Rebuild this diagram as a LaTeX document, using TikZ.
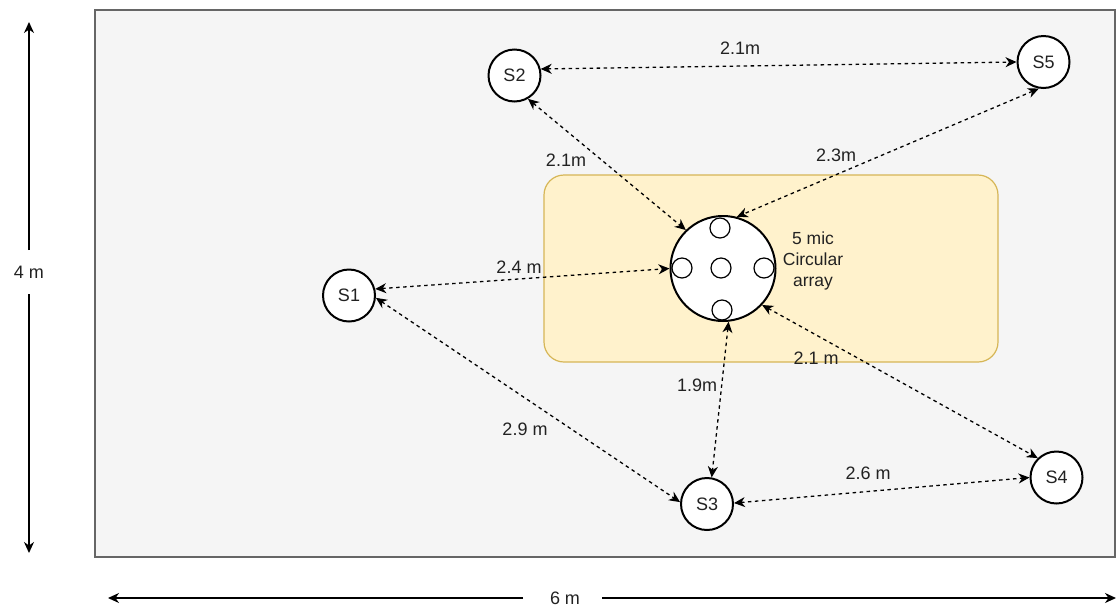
\documentclass[tikz,border=0pt]{standalone}
\usepackage{fontspec}
\setmainfont{Liberation Sans}
\usetikzlibrary{arrows.meta}
\definecolor{roomfill}{HTML}{F5F5F5}
\definecolor{roomline}{HTML}{666666}
\definecolor{zonefill}{HTML}{FFF2CC}
\definecolor{zoneline}{HTML}{D6B656}
\definecolor{txt}{HTML}{222222}
\tikzset{
  spk/.style={circle,draw=black,fill=white,line width=2pt,minimum size=52pt,inner sep=0pt,text=txt,font=\fontsize{18}{21}\selectfont},
  arr/.style={circle,draw=black,fill=white,line width=2pt,minimum size=105pt,inner sep=0pt},
  mic/.style={circle,draw=black,fill=white,line width=1.2pt,minimum size=20pt,inner sep=0pt},
  lbl/.style={text=txt,font=\fontsize{18}{21}\selectfont,inner sep=1pt},
  dist/.style={dash pattern=on 3.5pt off 3.5pt,line width=1.3pt,{Stealth[length=11pt,width=10pt,inset=3.5pt]}-{Stealth[length=11pt,width=10pt,inset=3.5pt]}},
  dimline/.style={line width=1.5pt,-{Stealth[length=11pt,width=10pt,inset=3.5pt]}}
}
\begin{document}
\begin{tikzpicture}[x=1pt,y=-1pt]
\useasboundingbox (0,0) rectangle (1116,606);
% room
\draw[fill=roomfill,draw=roomline,line width=1.5pt] (95,10) rectangle (1115,557);
% zone
\draw[fill=zonefill,draw=zoneline,line width=1.2pt,rounded corners=20pt] (544,175) rectangle (998,362);
% array
\node[arr] (A) at (723,268.5) {};
\node[mic] (m1) at (720,228) {};
\node[mic] (m2) at (682,268) {};
\node[mic] (m3) at (721,268) {};
\node[mic] (m4) at (764,268) {};
\node[mic] (m5) at (722,310) {};
\node[lbl,align=center,font=\fontsize{17.5}{21}\selectfont] (al) at (813,261) {5 mic\\Circular\\array};
% speakers
\node[spk] (S1) at (349,295.5) {S1};
\node[spk] (S2) at (514.5,75.5) {S2};
\node[spk] (S3) at (707,504) {S3};
\node[spk] (S4) at (1056.5,477.5) {S4};
\node[spk] (S5) at (1043.5,62) {S5};
% distances
\draw[dist] (S2.14) -- (S5.180);
\draw[dist] (S2.-60) -- (A.134);
\draw[dist] (S5.-100) -- (A.75);
\draw[dist] (S1.14) -- (A.180);
\draw[dist] (S1.-5) -- (S3.176);
\draw[dist] (A.-84) -- (S3.80);
\draw[dist] (S3.2) -- (S4.180);
\draw[dist] (A.-43) -- (S4.134);
% labels
\node[lbl] (l1) at (740,48) {2.1m};
\node[lbl] (l2) at (566,160) {2.1m};
\node[lbl] (l3) at (836,155) {2.3m};
\node[lbl] (l4) at (519,267) {2.4 m};
\node[lbl] (l5) at (525,429) {2.9 m};
\node[lbl] (l6) at (697,385) {1.9m};
\node[lbl] (l7) at (816,358) {2.1 m};
\node[lbl] (l8) at (868,473) {2.6 m};
% dimensions
\node[lbl] (h4) at (29,272) {4 m};
\coordinate (vt) at (29,22);
\coordinate (vb) at (29,553);
\coordinate (vt2) at (29,250);
\coordinate (vb2) at (29,294);
\draw[dimline] (vt2) -- (vt);
\draw[dimline] (vb2) -- (vb);
\node[lbl] (w6) at (565,598) {6 m};
\coordinate (hl) at (108,598);
\coordinate (hr) at (1116,598);
\coordinate (hl2) at (523,598);
\coordinate (hr2) at (602,598);
\draw[dimline] (hl2) -- (hl);
\draw[dimline] (hr2) -- (hr);
\end{tikzpicture}
\end{document}
